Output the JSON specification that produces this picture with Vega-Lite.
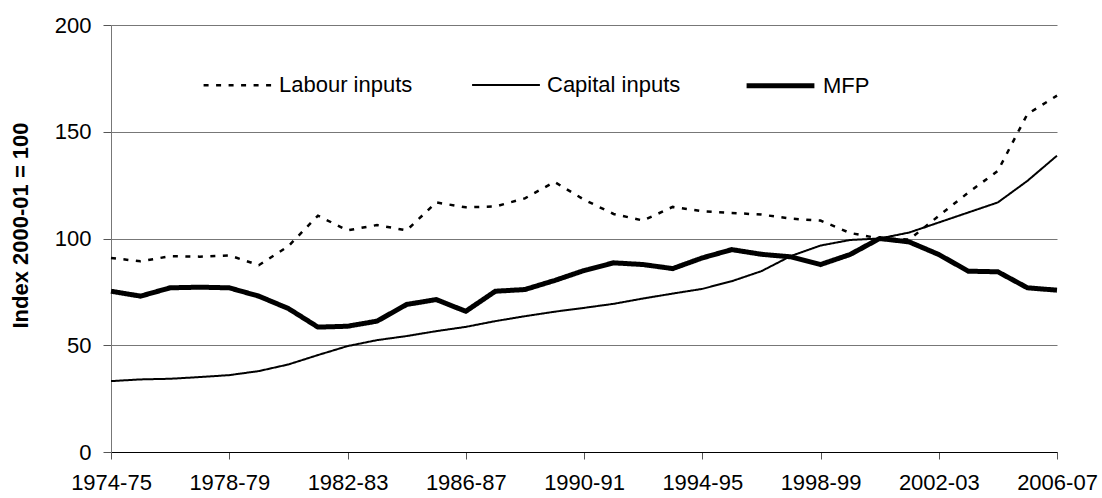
{
  "$schema": "https://vega.github.io/schema/vega-lite/v6.json",
  "width": 946,
  "height": 427,
  "autosize": {"type": "none"},
  "padding": {"left": 111, "top": 25, "right": 45, "bottom": 46},
  "background": "white",
  "config": {
    "view": {"stroke": null},
    "font": "Liberation Sans",
    "axis": {"labelFont": "Liberation Sans", "titleFont": "Liberation Sans"}
  },
  "data": {
    "values": [
      {"period": "1974-75", "series": "Labour inputs", "value": 90.9},
      {"period": "1975-76", "series": "Labour inputs", "value": 89.3},
      {"period": "1976-77", "series": "Labour inputs", "value": 91.7},
      {"period": "1977-78", "series": "Labour inputs", "value": 91.5},
      {"period": "1978-79", "series": "Labour inputs", "value": 92.1},
      {"period": "1979-80", "series": "Labour inputs", "value": 87.5},
      {"period": "1980-81", "series": "Labour inputs", "value": 96.4},
      {"period": "1981-82", "series": "Labour inputs", "value": 110.7},
      {"period": "1982-83", "series": "Labour inputs", "value": 103.8},
      {"period": "1983-84", "series": "Labour inputs", "value": 106.3},
      {"period": "1984-85", "series": "Labour inputs", "value": 103.8},
      {"period": "1985-86", "series": "Labour inputs", "value": 116.9},
      {"period": "1986-87", "series": "Labour inputs", "value": 114.6},
      {"period": "1987-88", "series": "Labour inputs", "value": 115.0},
      {"period": "1988-89", "series": "Labour inputs", "value": 118.8},
      {"period": "1989-90", "series": "Labour inputs", "value": 126.5},
      {"period": "1990-91", "series": "Labour inputs", "value": 118.2},
      {"period": "1991-92", "series": "Labour inputs", "value": 111.5},
      {"period": "1992-93", "series": "Labour inputs", "value": 108.4},
      {"period": "1993-94", "series": "Labour inputs", "value": 114.8},
      {"period": "1994-95", "series": "Labour inputs", "value": 112.8},
      {"period": "1995-96", "series": "Labour inputs", "value": 112.0},
      {"period": "1996-97", "series": "Labour inputs", "value": 111.2},
      {"period": "1997-98", "series": "Labour inputs", "value": 109.3},
      {"period": "1998-99", "series": "Labour inputs", "value": 108.4},
      {"period": "1999-00", "series": "Labour inputs", "value": 102.6},
      {"period": "2000-01", "series": "Labour inputs", "value": 100.0},
      {"period": "2001-02", "series": "Labour inputs", "value": 99.5},
      {"period": "2002-03", "series": "Labour inputs", "value": 110.6},
      {"period": "2003-04", "series": "Labour inputs", "value": 121.5},
      {"period": "2004-05", "series": "Labour inputs", "value": 131.7},
      {"period": "2005-06", "series": "Labour inputs", "value": 158.3},
      {"period": "2006-07", "series": "Labour inputs", "value": 166.9},
      {"period": "1974-75", "series": "Capital inputs", "value": 33.2},
      {"period": "1975-76", "series": "Capital inputs", "value": 34.0},
      {"period": "1976-77", "series": "Capital inputs", "value": 34.3},
      {"period": "1977-78", "series": "Capital inputs", "value": 35.1},
      {"period": "1978-79", "series": "Capital inputs", "value": 36.0},
      {"period": "1979-80", "series": "Capital inputs", "value": 37.9},
      {"period": "1980-81", "series": "Capital inputs", "value": 41.0},
      {"period": "1981-82", "series": "Capital inputs", "value": 45.4},
      {"period": "1982-83", "series": "Capital inputs", "value": 49.6},
      {"period": "1983-84", "series": "Capital inputs", "value": 52.4},
      {"period": "1984-85", "series": "Capital inputs", "value": 54.3},
      {"period": "1985-86", "series": "Capital inputs", "value": 56.6},
      {"period": "1986-87", "series": "Capital inputs", "value": 58.6},
      {"period": "1987-88", "series": "Capital inputs", "value": 61.3},
      {"period": "1988-89", "series": "Capital inputs", "value": 63.6},
      {"period": "1989-90", "series": "Capital inputs", "value": 65.7},
      {"period": "1990-91", "series": "Capital inputs", "value": 67.5},
      {"period": "1991-92", "series": "Capital inputs", "value": 69.4},
      {"period": "1992-93", "series": "Capital inputs", "value": 71.9},
      {"period": "1993-94", "series": "Capital inputs", "value": 74.2},
      {"period": "1994-95", "series": "Capital inputs", "value": 76.4},
      {"period": "1995-96", "series": "Capital inputs", "value": 80.0},
      {"period": "1996-97", "series": "Capital inputs", "value": 84.7},
      {"period": "1997-98", "series": "Capital inputs", "value": 91.8},
      {"period": "1998-99", "series": "Capital inputs", "value": 96.7},
      {"period": "1999-00", "series": "Capital inputs", "value": 99.3},
      {"period": "2000-01", "series": "Capital inputs", "value": 100.0},
      {"period": "2001-02", "series": "Capital inputs", "value": 102.8},
      {"period": "2002-03", "series": "Capital inputs", "value": 107.5},
      {"period": "2003-04", "series": "Capital inputs", "value": 112.2},
      {"period": "2004-05", "series": "Capital inputs", "value": 116.9},
      {"period": "2005-06", "series": "Capital inputs", "value": 127.0},
      {"period": "2006-07", "series": "Capital inputs", "value": 138.8},
      {"period": "1974-75", "series": "MFP", "value": 75.3},
      {"period": "1975-76", "series": "MFP", "value": 73.0},
      {"period": "1976-77", "series": "MFP", "value": 76.9},
      {"period": "1977-78", "series": "MFP", "value": 77.2},
      {"period": "1978-79", "series": "MFP", "value": 76.9},
      {"period": "1979-80", "series": "MFP", "value": 73.0},
      {"period": "1980-81", "series": "MFP", "value": 67.2},
      {"period": "1981-82", "series": "MFP", "value": 58.5},
      {"period": "1982-83", "series": "MFP", "value": 58.9},
      {"period": "1983-84", "series": "MFP", "value": 61.3},
      {"period": "1984-85", "series": "MFP", "value": 69.1},
      {"period": "1985-86", "series": "MFP", "value": 71.4},
      {"period": "1986-87", "series": "MFP", "value": 65.9},
      {"period": "1987-88", "series": "MFP", "value": 75.3},
      {"period": "1988-89", "series": "MFP", "value": 76.1},
      {"period": "1989-90", "series": "MFP", "value": 80.3},
      {"period": "1990-91", "series": "MFP", "value": 85.0},
      {"period": "1991-92", "series": "MFP", "value": 88.6},
      {"period": "1992-93", "series": "MFP", "value": 87.8},
      {"period": "1993-94", "series": "MFP", "value": 85.9},
      {"period": "1994-95", "series": "MFP", "value": 90.9},
      {"period": "1995-96", "series": "MFP", "value": 94.8},
      {"period": "1996-97", "series": "MFP", "value": 92.6},
      {"period": "1997-98", "series": "MFP", "value": 91.4},
      {"period": "1998-99", "series": "MFP", "value": 87.8},
      {"period": "1999-00", "series": "MFP", "value": 92.5},
      {"period": "2000-01", "series": "MFP", "value": 100.0},
      {"period": "2001-02", "series": "MFP", "value": 98.4},
      {"period": "2002-03", "series": "MFP", "value": 92.5},
      {"period": "2003-04", "series": "MFP", "value": 84.7},
      {"period": "2004-05", "series": "MFP", "value": 84.4},
      {"period": "2005-06", "series": "MFP", "value": 76.9},
      {"period": "2006-07", "series": "MFP", "value": 75.8}
    ]
  },
  "mark": {"type": "line", "color": "black", "strokeCap": "butt", "strokeJoin": "miter"},
  "encoding": {
    "x": {
      "field": "period",
      "type": "ordinal",
      "sort": null,
      "scale": {"type": "point", "padding": 0},
      "axis": {
        "title": null,
        "values": ["1974-75", "1978-79", "1982-83", "1986-87", "1990-91", "1994-95", "1998-99", "2002-03", "2006-07"],
        "labelAngle": 0,
        "labelFontSize": 22,
        "labelColor": "black",
        "labelPadding": 13,
        "tickSize": 7,
        "tickColor": "#555",
        "domainColor": "black",
        "grid": false
      }
    },
    "y": {
      "field": "value",
      "type": "quantitative",
      "scale": {"domain": [0, 200], "nice": false},
      "axis": {
        "title": "Index 2000-01 = 100",
        "titleFontSize": 22,
        "titleFontWeight": "bold",
        "titleColor": "black",
        "titleX": -79,
        "titleY": 200,
        "values": [0, 50, 100, 150, 200],
        "labelFontSize": 22,
        "labelColor": "black",
        "labelPadding": 12,
        "tickSize": 8,
        "tickColor": "#555",
        "domainColor": "#777",
        "grid": true,
        "gridColor": "#777",
        "gridWidth": 1
      }
    },
    "strokeDash": {
      "field": "series",
      "type": "nominal",
      "sort": ["Labour inputs", "Capital inputs", "MFP"],
      "scale": {"domain": ["Labour inputs", "Capital inputs", "MFP"], "range": [[5, 7.5], [1, 0], [1, 0]]},
      "legend": {
        "title": null,
        "orient": "none",
        "direction": "horizontal",
        "legendX": 91,
        "legendY": 24,
        "symbolType": "stroke",
        "symbolSize": 4600,
        "symbolStrokeColor": "black",
        "labelFontSize": 22,
        "labelColor": "black",
        "labelOffset": 6,
        "columnPadding": 55
      }
    },
    "strokeWidth": {
      "field": "series",
      "type": "nominal",
      "sort": ["Labour inputs", "Capital inputs", "MFP"],
      "scale": {"type": "ordinal", "domain": ["Labour inputs", "Capital inputs", "MFP"], "range": [2.5, 2, 5]},
      "legend": {
        "title": null,
        "orient": "none",
        "direction": "horizontal",
        "legendX": 91,
        "legendY": 24,
        "symbolType": "stroke",
        "symbolSize": 4600,
        "symbolStrokeColor": "black",
        "labelFontSize": 22,
        "labelColor": "black",
        "labelOffset": 6,
        "columnPadding": 55
      }
    }
  }
}
